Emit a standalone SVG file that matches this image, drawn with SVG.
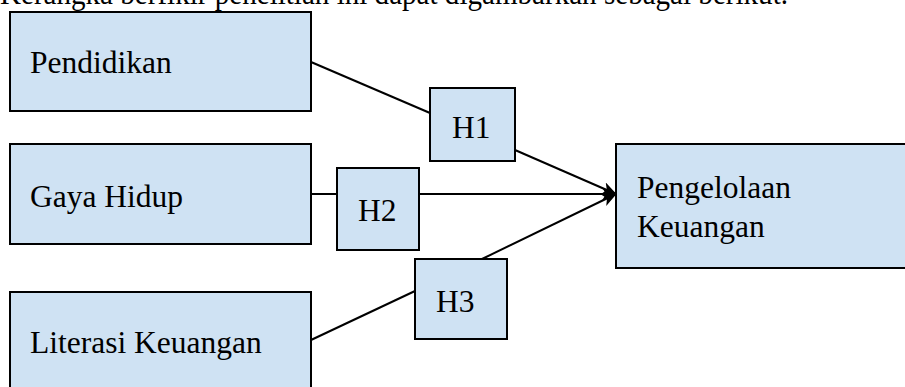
<svg xmlns="http://www.w3.org/2000/svg" width="905" height="387" viewBox="0 0 905 387">
<style>
.box{fill:#cfe2f3;stroke:#000;stroke-width:2}
.t{font-family:"Liberation Serif","Times New Roman",serif;font-size:31.5px;fill:#000}
.c{stroke:#000;stroke-width:2;fill:none}
</style>
<defs>
<marker id="ah" markerWidth="15" markerHeight="13" refX="14" refY="6.5" orient="auto" markerUnits="userSpaceOnUse">
<path d="M0,0 L15,6.5 L0,13 L4,6.5 Z" fill="#000"/>
</marker>
</defs>
<rect width="905" height="387" fill="#fff"/>
<text class="t" x="0" y="4" textLength="788" lengthAdjust="spacingAndGlyphs">Kerangka berfikir penelitian ini dapat digambarkan sebagai berikut.</text>
<g id="connectors">
<line class="c" x1="311" y1="62" x2="430" y2="113"/>
<line class="c" x1="515" y1="150" x2="616" y2="194" marker-end="url(#ah)"/>
<line class="c" x1="311" y1="194" x2="337" y2="194"/>
<line class="c" x1="419" y1="194" x2="616" y2="194" marker-end="url(#ah)"/>
<line class="c" x1="311" y1="340" x2="415" y2="291"/>
<line class="c" x1="482" y1="259" x2="616" y2="194" marker-end="url(#ah)"/>
</g>
<g id="pendidikan"><rect class="box" x="10" y="12" width="301" height="99"/><text class="t" x="30" y="73">Pendidikan</text></g>
<g id="gaya-hidup"><rect class="box" x="10" y="144" width="301" height="100"/><text class="t" x="30" y="207">Gaya Hidup</text></g>
<g id="literasi"><rect class="box" x="10" y="292" width="301" height="110"/><text class="t" x="30" y="353">Literasi Keuangan</text></g>
<g id="h1"><rect class="box" x="430" y="88" width="85" height="73"/><text class="t" x="452" y="138">H1</text></g>
<g id="h2"><rect class="box" x="337" y="168" width="82" height="82"/><text class="t" x="358" y="221">H2</text></g>
<g id="h3"><rect class="box" x="415" y="259" width="92" height="80"/><text class="t" x="436" y="312">H3</text></g>
<g id="pengelolaan"><rect class="box" x="616" y="144" width="300" height="124"/><text class="t" x="637" y="198">Pengelolaan</text><text class="t" x="637" y="237">Keuangan</text></g>
</svg>
